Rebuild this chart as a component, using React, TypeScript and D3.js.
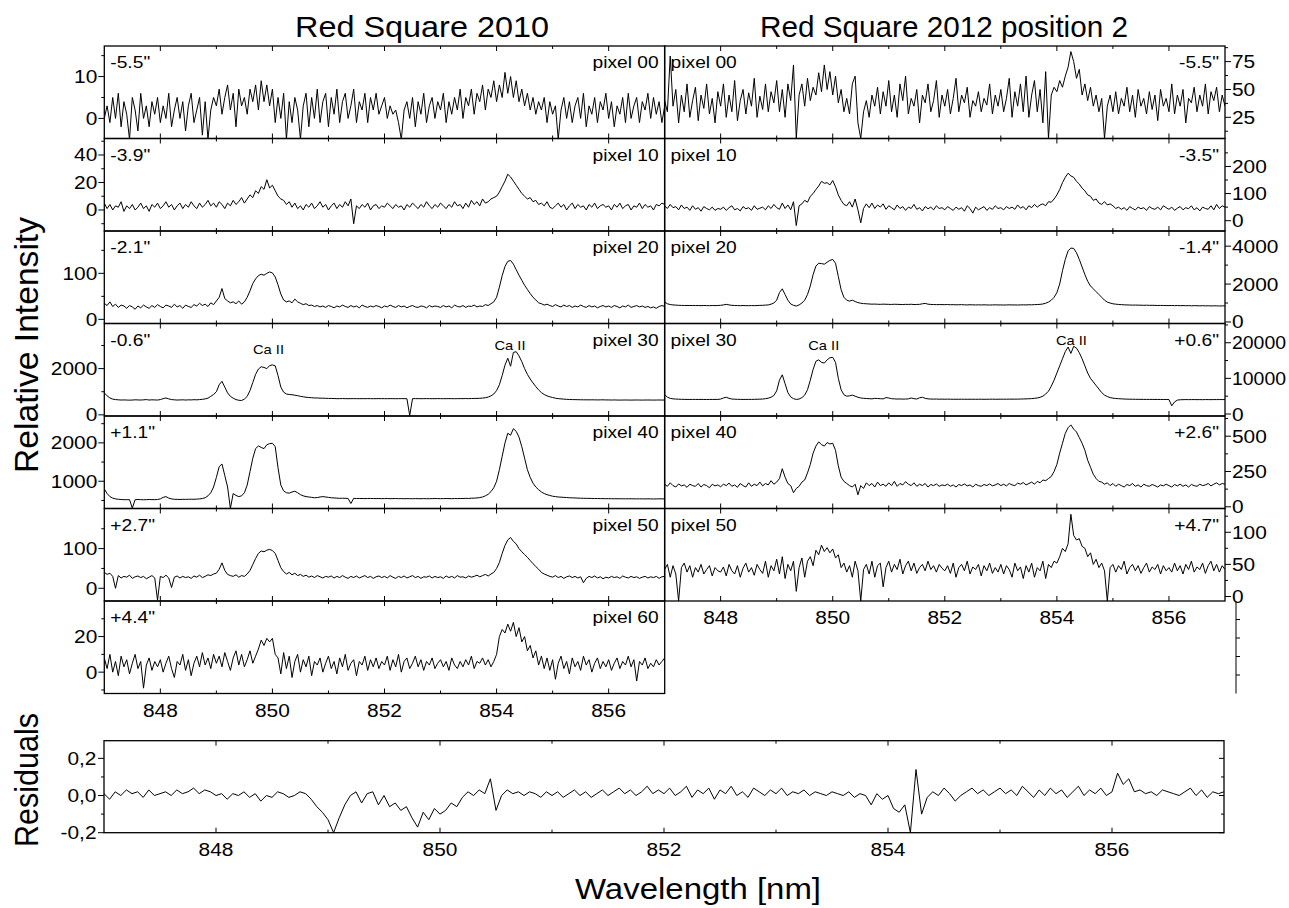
import React from "react";
import * as d3 from "d3";

// ---------- data (0.05 nm sampling from 847.00 to 857.00 nm) ----------
const left00 = [
  0, 3, -1, 5, 0, 6, -2, 4, 1, -5, 5, 2, -3, 6, 0, 3, -2, 4, 1, 5,
  -1, 3, 0, 6, -2, 2, 5, 0, 4, -3, 3, 6, -1, 2, 5, -4, 4, -5, 2, 5,
  3, 7, 1, 5, 8, 2, 6, -2, 7, 3, 5, 1, 7, 4, 8, 2, 9, 4, 8, 3,
  7, -1, 5, 0, 6, -5, 4, -1, 5, 2, -5, 3, 6, -2, 5, 0, 7, -1, 4, 6,
  -2, 5, 1, 7, -1, 4, 6, 0, 3, 7, -1, 4, 2, 6, -1, 5, 2, 6, 1, 3,
  5, 0, 3, 1, 2, -1, -5, 2, 4, 0, 5, -2, 4, 1, 6, -1, 3, 5, 0, 4,
  2, 6, -1, 4, 1, 5, 2, 7, 0, 5, 3, 7, 1, 6, 4, 8, 2, 7, 5, 9,
  4, 8, 5, 11, 6, 10, 5, 9, 4, 7, 3, 6, 2, 5, 1, 4, 2, 5, -1, 4,
  1, 3, -5, 2, 5, 0, 4, -1, 3, 5, 0, 6, -2, 3, 1, 5, -1, 4, 2, 6,
  0, 4, -2, 3, 1, 5, -1, 6, 0, 3, 5, -1, 4, 2, 6, 0, 5, 1, 4, -1,
  3,
];
const left10 = [
  5, 1, 4, 0, 3, 2, 6, -1, 3, 1, 4, 0, 2, 5, 1, 3, -1, 4, 2, 5,
  1, 3, 6, 2, 4, 0, 3, 5, 1, 4, 2, 6, 3, 1, 5, 2, 4, 7, 3, 5,
  2, 6, 4, 1, 5, 3, 7, 4, 6, 9, 5, 8, 11, 9, 14, 12, 17, 15, 22, 16,
  18, 14, 10, 8, 7, 4, 6, 2, 5, 1, 3, 0, 4, 2, 5, 1, 3, 6, 2, 4,
  0, 3, 5, 1, 4, 2, 6, 3, 8, -10, 3, 1, 4, 2, 5, 0, 3, 4, 1, 3,
  2, 5, 3, 1, 4, 2, 3, 0, 4, 2, 5, 3, 1, 4, 2, 6, 3, 1, 4, 2,
  5, 3, 1, 4, 2, 6, 3, 4, 1, 5, 2, 7, 4, 6, 3, 8, 5, 6, 8, 9,
  10, 13, 17, 21, 26, 24, 21, 18, 15, 12, 10, 8, 9, 6, 7, 4, 5, 3, 6, 2,
  1, 3, 5, 2, 4, 0, 3, 5, 1, 4, 2, 3, 0, 4, 2, 5, 1, 3, 4, 2,
  3, 0, 4, 2, 5, 1, 3, 4, 0, 3, 2, 5, 1, 4, 2, 3, 0, 4, 3, 5,
  4,
];
const left20 = [
  35, 30, 38, 28, 33, 26, 31, 29, 24, 30, 27, 22, 29, 25, 31, 27, 24, 30, 26, 32,
  28, 25, 31, 29, 26, 33, 27, 30, 24, 31, 28, 26, 32, 29, 35, 30, 33, 28, 36, 32,
  40, 48, 67, 45, 40, 36, 38, 34, 40, 33, 38, 48, 62, 78, 88, 95, 98, 96, 100, 103,
  101, 92, 75, 55, 42, 38, 40, 36, 44, 38, 35, 32, 34, 30, 31, 28, 30, 27, 29, 26,
  30, 28, 25, 29, 27, 31, 28, 26, 30, 27, 29, 25, 31, 28, 26, 29, 27, 30, 28, 25,
  29, 27, 31, 28, 26, 30, 27, 29, 25, 28, 30, 27, 26, 29, 28, 25, 30, 27, 29, 28,
  26, 30, 27, 29, 25, 31, 28, 27, 30, 26, 29, 28, 31, 27, 29, 28, 32, 30, 34, 38,
  48, 70, 95, 115, 126, 128, 120, 108, 96, 85, 74, 65, 56, 48, 42, 36, 34, 31, 33, 30,
  28, 32, 29, 27, 31, 28, 30, 26, 29, 27, 31, 28, 26, 30, 27, 29, 25, 28, 30, 27,
  29, 26, 30, 28, 25, 29, 27, 31, 26, 28, 30, 27, 29, 26, 28, 25, 27, 24, 28, 30,
  28,
];
const left30 = [
  950, 820, 730, 680, 660, 650, 640, 645, 640, 635, 640, 650, 645, 640, 650, 660, 640, 650, 645, 640,
  660, 700, 730, 690, 660, 650, 640, 645, 650, 640, 650, 645, 655, 650, 660, 670, 690, 720, 800, 880,
  1000, 1300, 1450, 1200, 950, 800, 720, 660, 630, 620, 680, 800, 1050, 1400, 1750, 1980, 2080, 2050, 2000, 2130,
  2160, 2120, 1700, 1200, 980, 900, 880, 870, 850, 830, 800, 780, 760, 750, 740, 730, 730, 720, 720, 715,
  710, 710, 705, 700, 700, 705, 700, 698, 700, 702, 700, 698, 700, 700, 702, 700, 698, 700, 702, 700,
  700, 698, 702, 700, 698, 700, 702, 700, 698, -30, 700, 702, 700, 698, 700, 702, 700, 698, 700, 702,
  700, 698, 700, 702, 700, 698, 700, 702, 700, 705, 700, 705, 710, 710, 715, 725, 740, 770, 820, 900,
  1050, 1300, 1700, 2150, 2450, 2100, 2700, 2730, 2550, 2300, 2000, 1750, 1550, 1380, 1220, 1080, 960, 880, 820, 780,
  750, 720, 700, 690, 680, 670, 665, 660, 658, 655, 652, 650, 650, 648, 650, 648, 645, 648, 650, 645,
  645, 640, 645, 640, 638, 640, 642, 640, 638, 640, 642, 640, 638, 640, 642, 640, 638, 640, 642, 640,
  640,
];
const left40 = [
  800, 680, 600, 560, 540, 530, 525, 520, 520, 520, 300, 520, 525, 520, 518, 520, 525, 522, 520, 525,
  540, 580, 600, 560, 540, 530, 528, 525, 530, 528, 530, 532, 530, 535, 540, 550, 570, 620, 700, 850,
  1100, 1380, 1450, 1150, 850, 290, 680, 630, 600, 620, 700, 900, 1250, 1600, 1850, 1920, 1880, 1850, 1950, 1980,
  1990, 1900, 1350, 900, 750, 700, 690, 720, 740, 700, 650, 620, 600, 590, 580, 570, 575, 590, 600, 590,
  580, 570, 565, 560, 555, 558, 555, 552, 420, 555, 550, 552, 550, 548, 550, 552, 550, 548, 550, 548,
  548, 550, 546, 548, 550, 546, 548, 545, 548, 546, 545, 548, 546, 545, 548, 546, 545, 548, 550, 548,
  546, 548, 550, 548, 546, 550, 548, 552, 550, 555, 552, 558, 560, 565, 575, 590, 620, 660, 730, 830,
  1000, 1300, 1650, 2000, 2250, 2200, 2370, 2300, 2150, 1900, 1600, 1300, 1100, 950, 850, 780, 720, 680, 650, 630,
  610, 600, 590, 585, 580, 575, 570, 568, 565, 560, 558, 556, 555, 554, 552, 550, 550, 548, 548, 546,
  546, 545, 544, 545, 543, 544, 542, 543, 544, 542, 540, 542, 541, 540, 542, 540, 538, 540, 542, 540,
  540,
];
const left50 = [
  40, 35, 38, 30, 0, 32, 26, 30, 28, 33, 25, 29, 31, 27, 30, 24, 28, 32, 26, -30,
  30, 27, 33, 26, 2, 28, 31, 26, 30, 27, 29, 25, 31, 28, 33, 27, 30, 34, 32, 36,
  38, 48, 64, 45, 35, 32, 30, 34, 28, 32, 30, 36, 45, 60, 75, 88, 94, 92, 96, 98,
  95, 88, 70, 52, 42, 36, 40, 34, 38, 32, 35, 30, 33, 28, 31, 27, 32, 29, 26, 30,
  28, 31, 26, 30, 27, 32, 28, 25, 30, 27, 31, 26, 29, 32, 27, 30, 25, 29, 31, 27,
  30, 26, 32, 28, 25, 30, 27, 31, 26, 29, 32, 27, 30, 25, 29, 28, 31, 26, 30, 27,
  29, 25, 31, 27, 30, 26, 32, 28, 29, 26, 31, 28, 30, 33, 29, 32, 35, 31, 36, 40,
  50, 65, 88, 108, 122, 128, 118, 112, 100, 92, 85, 78, 70, 62, 55, 48, 40, 36, 33, 30,
  28, 32, 27, 30, 25, 29, 31, 27, 30, 26, 29, 14, 25, 30, 27, 31, 26, 29, 24, 28,
  26, 30, 27, 29, 25, 31, 28, 26, 30, 27, 29, 25, 28, 30, 26, 29, 27, 30, 25, 29,
  30,
];
const left60 = [
  8, 2, 10, 0, 6, -2, 9, 3, 7, -1, 5, 10, 2, 6, -9, 4, 8, 1, 6, 3,
  7, 0, 5, 9, 2, -3, 6, 4, 10, 1, 7, -2, 5, 9, 3, 11, 4, 8, 2, 10,
  5, 9, 3, 11, 6, 1, 8, 12, 4, 10, 3, 7, 12, 5, 9, 13, 18, 15, 19, 17,
  19, 10, 8, -1, 11, 2, 9, -3, 6, 10, 0, 7, 3, 9, -2, 6, 4, 8, 0, 5,
  9, 2, 6, -1, 8, 3, 10, 1, 5, 7, -2, 6, 4, 9, 1, 7, 3, 8, 2, 6,
  4, 9, 1, 7, 3, 10, 0, 6, 8, 2, 5, 9, 3, 7, 1, 6, 4, 8, 2, 5,
  7, 3, 6, 1, 8, 4, 2, 6, 3, 7, 4, 9, 2, 6, 5, 8, 4, 7, 3, 6,
  10, 20, 24, 22, 27, 23, 28, 20, 25, 17, 20, 12, 15, 8, 12, 4, 9, 2, 8, 1,
  7, -4, 5, 9, 2, 6, -1, 8, 3, 6, 1, 9, 4, 7, 0, 5, 8, 2, 6, 3,
  7, 1, 5, 8, 2, 6, 4, 9, 3, 7, -5, 6, 4, 8, 2, 5, 3, 7, 4, 6,
  8,
];
const right00 = [
  40, 30, 80, 35, 50, 20, 45, 30, 55, 25, 40, 52, 22, 45, 33, 55, 28, 42, 20, 48,
  35, 55, 25, 45, 30, 58, 22, 40, 50, 28, 47, 35, 60, 25, 44, 32, 55, 30, 48, 38,
  58, 30, 50, 25, 55, 40, 72, 6, 45, 55, 35, 60, 40, 52, 45, 65, 48, 72, 50, 66,
  45, 62, 38, 50, 30, 42, 28, 55, 62, 20, 6, 30, 40, 25, 45, 35, 52, 28, 48, 35,
  58, 30, 45, 25, 55, 40, 62, 28, 42, 35, 50, 20, 45, 38, 55, 30, 40, 58, 25, 45,
  35, 50, 28, 42, 60, 30, 45, 38, 52, 25, 40, 35, 48, 30, 42, 36, 55, 28, 45, 35,
  50, 30, 42, 60, 25, 48, 35, 55, 30, 62, 25, 45, 58, 30, 50, 20, 66, 6, 45, 52,
  48, 58, 52, 62, 70, 84, 75, 60, 68, 45, 55, 40, 52, 35, 45, 30, 42, 6, 35, 45,
  30, 48, 28, 42, 35, 52, 30, 45, 25, 50, 35, 42, 28, 48, 32, 45, 22, 50, 35, 42,
  30, 55, 28, 45, 35, 50, 20, 42, 38, 52, 30, 45, 35, 55, 28, 48, 40, 52, 30, 45,
  35,
];
const right10 = [
  55, 45, 60, 48, 52, 40, 58, 45, 50, 38, 55, 42, 48, 35, 52, 45, 40, 50, 38, 45,
  42, 50, 38, 48, 55, 40, 45, 36, 52, 44, 48, 38, 55, 42, 46, 50, 40, 55, 45, 60,
  48, 42, 65, 45, 58, 40, 70, -18, 55, 62, 75, 68, 90, 100, 115, 128, 145, 138, 140, 132,
  148, 125, 95, 75, 60, 55, 70, 50, 80, 40, -8, 45, 62, 48, 65, 45, 58, 50, 62, 42,
  55, 48, 40, 58, 45, 52, 38, 50, 45, 60, 42, 48, 36, 52, 44, 50, 40, 55, 45, 48,
  40, 52, 45, 38, 50, 42, 48, 35, 55, 45, 28, 50, 40, 46, 52, 38, 48, 42, 55, 45,
  48, 40, 52, 45, 50, 42, 58, 46, 52, 40, 55, 48, 60, 50, 58, 62, 55, 70, 68, 80,
  95, 115, 140, 160, 175, 165, 160, 145, 135, 120, 110, 95, 90, 75, 80, 65, 60, 70, 58, 62,
  55, 45, 50, 42, 48, 38, 52, 45, 40, 50, 44, 48, 38, 52, 45, 42, 50, 40, 55, 48,
  42, 50, 38, 46, 52, 40, 48, 44, 55, 40, 48, 36, 50, 45, 42, 55, 40, 60, 45, 55,
  50,
];
const right20 = [
  1050, 960, 920, 900, 890, 880, 875, 870, 872, 868, 870, 865, 868, 862, 870, 865, 860, 868, 865, 870,
  880, 900, 930, 900, 880, 870, 865, 860, 868, 862, 860, 865, 862, 870, 875, 880, 890, 900, 940, 1000,
  1150, 1550, 1750, 1450, 1150, 950, 880, 840, 900, 1000, 1150, 1450, 1900, 2500, 2950, 3100, 3080, 3050, 3150, 3250,
  3300, 3100, 2400, 1700, 1300, 1150, 1100, 1150, 1080, 1020, 990, 970, 960, 950, 940, 945, 935, 930, 940, 935,
  930, 925, 935, 930, 925, 920, 930, 925, 935, 920, 925, 930, 960, 980, 940, 925, 920, 915, 920, 915,
  915, 920, 910, 915, 905, 910, 915, 905, 900, 910, 905, 900, 905, 898, 905, 900, 895, 900, 905, 898,
  900, 895, 900, 905, 898, 900, 895, 902, 905, 900, 910, 905, 915, 920, 930, 950, 990, 1050, 1150, 1300,
  1550, 2000, 2700, 3300, 3750, 3900, 3880, 3650, 3300, 2900, 2500, 2150, 1900, 1750, 1600, 1450, 1300, 1150, 1050, 1000,
  960, 940, 925, 915, 905, 900, 895, 890, 892, 888, 885, 880, 885, 878, 880, 875, 870, 875, 870, 868,
  865, 870, 862, 868, 860, 865, 858, 862, 855, 860, 858, 852, 858, 850, 855, 848, 852, 850, 845, 850,
  848,
];
const right30 = [
  5500, 4700, 4400, 4250, 4200, 4150, 4120, 4100, 4100, 4080, 4100, 4090, 4080, 4100, 4080, 4070, 4090, 4080, 4100, 4090,
  4200, 4500, 4700, 4400, 4200, 4150, 4120, 4100, 4100, 4090, 4100, 4100, 4120, 4140, 4170, 4200, 4300, 4450, 4700, 5200,
  6500, 9500, 11000, 8500, 6000, 4800, 4300, 4100, 4200, 4600, 5300, 6800, 9500, 12500, 14800, 15200, 14500, 14300, 15200, 15800,
  15900, 14500, 10000, 6800, 5400, 5000, 5100, 5300, 5000, 4700, 4500, 4400, 4350, 4300, 4250, 4400, 4350, 4300, 4250, 4600,
  4500, 4300, 4250, 4200, 4220, 4180, 4200, 4250, 4500, 4300, 4200, 4550, 4700, 4400, 4250, 4200, 4180, 4200, 4150, 4180,
  4150, 4170, 4150, 4140, 4150, 4130, 4150, 4140, 4130, 4150, 4140, 4130, 4140, 4150, 4130, 4140, 4150, 4160, 4140, 4150,
  4150, 4160, 4150, 4170, 4160, 4180, 4170, 4200, 4220, 4250, 4280, 4320, 4400, 4500, 4700, 5000, 5600, 6400, 7800, 9500,
  11500, 13500, 15500, 17500, 18800, 17000, 19000, 18500, 17200, 15500, 13500, 11500, 10000, 9000, 8000, 7000, 6000, 5300, 4900, 4600,
  4450, 4350, 4300, 4250, 4200, 4180, 4150, 4140, 4130, 4120, 4110, 4100, 4100, 4090, 4100, 4080, 4090, 4080, 4070, 4080,
  4050, 2300, 3400, 3900, 4000, 4020, 4050, 4030, 4040, 4050, 4030, 4040, 4020, 4050, 4040, 4030, 4050, 4040, 4060, 4050,
  4060,
];
const right40 = [
  160, 145, 170, 150, 140, 162, 148, 155, 138, 160, 150, 145, 165, 140, 158, 150, 135, 160, 148, 155,
  142, 160, 150, 168, 145, 155, 138, 165, 150, 140, 170, 145, 160, 150, 175, 148, 165, 155, 185, 160,
  175, 200, 270, 210, 165, 150, 100, 130, 145, 175, 190, 240, 300, 380, 430, 460, 440, 430, 455, 445,
  450, 400, 290, 210, 180, 165, 150, 140, 160, 85, 150, 130, 170, 150, 165, 140, 175, 150, 160, 145,
  170, 150, 180, 145, 165, 155, 178, 160, 150, 170, 145, 160, 150, 165, 140, 158, 150, 162, 145, 155,
  150, 160, 145, 155, 140, 158, 150, 162, 148, 155, 140, 160, 150, 145, 158, 150, 162, 148, 155, 165,
  150, 160, 148, 165, 155, 150, 168, 160, 172, 155, 165, 175, 160, 180, 170, 190, 185, 200, 215, 250,
  300, 380, 450, 520, 560, 580, 550, 530, 490, 450, 400, 330, 280, 230, 200, 180, 175, 160, 170, 150,
  165, 145, 160, 150, 140, 158, 150, 165, 145, 155, 140, 160, 150, 145, 158, 150, 140, 155, 148, 160,
  150, 140, 158, 148, 160, 145, 155, 140, 158, 150, 145, 160, 150, 155, 165, 148, 160, 170, 155, 165,
  160,
];
const right50 = [
  42, 50, 30, 48, 35, -7, 45, 52, 38, 48, 30, 45, 38, 50, 35, 42, 48, 32, 45, 40,
  38, 46, 32, 50, 40, 35, 48, 30, 44, 52, 38, 45, 33, 50, 42, 36, 55, 30, 48, 40,
  58, 35, 62, 28, 50, 40, 55, 8, 45, 60, 30, 55, 62, 48, 72, 65, 80, 70, 76, 68,
  74, 60, 65, 45, 52, 38, 48, 30, 55, 40, -7, 42, 50, 35, 55, 30, 48, 52, 15, 45,
  55, 38, 50, 42, 58, 35, 48, 55, 40, 52, 36, 45, 50, 40, 55, 42, 48, 38, 50, 44,
  40, 48, 36, 52, 30, 45, 50, 40, 55, 35, 46, 42, 50, 32, 48, 40, 52, 36, 45, 38,
  50, 35, 48, 42, 30, 52, 40, 46, 28, 48, 38, 52, 30, 45, 40, 55, 28, 50, 45, 55,
  52, 62, 75, 70, 82, 128, 95, 88, 90, 78, 75, 62, 68, 50, 58, 45, 52, 40, -7, 45,
  50, 38, 48, 42, 55, 35, 45, 50, 40, 48, 36, 45, 52, 38, 46, 42, 50, 35, 48, 40,
  45, 38, 52, 40, 48, 35, 50, 42, 55, 38, 46, 42, 52, 36, 48, 55, 40, 50, 38, 48,
  42,
];
const residuals = [
  0.01, -0.02, 0.02, 0.0, 0.03, 0.01, 0.02, -0.01, 0.03, 0.0, 0.01, 0.02, 0.0, 0.03, 0.01, 0.02, 0.04, 0.01, 0.03, 0.02,
  0.0, 0.01, -0.02, 0.01, 0.0, 0.02, -0.01, 0.01, -0.03, 0.0, -0.01, 0.02, 0.01, -0.01, 0.0, 0.02, 0.01, -0.02, -0.06, -0.09,
  -0.13, -0.2, -0.12, -0.05, 0.0, 0.02, -0.04, 0.01, 0.02, -0.05, 0.0, -0.06, -0.04, -0.08, -0.06, -0.12, -0.17, -0.09, -0.13, -0.07,
  -0.1, -0.08, -0.04, -0.06, -0.01, 0.02, 0.0, 0.03, 0.01, 0.09, -0.08, 0.0, 0.03, 0.01, 0.02, 0.0, 0.02, 0.01, -0.01, 0.02,
  0.0, 0.02, -0.01, 0.01, 0.03, 0.0, 0.02, -0.01, 0.01, 0.03, 0.0, 0.02, 0.04, 0.01, 0.03, 0.0, 0.02, 0.05, 0.01, 0.03,
  0.01, 0.04, 0.0, 0.02, 0.05, -0.01, 0.03, 0.01, 0.04, -0.02, 0.03, 0.01, 0.05, 0.0, 0.02, -0.01, 0.04, 0.02, 0.0, 0.03,
  0.01, 0.04, 0.0, 0.02, 0.01, 0.03, 0.0, 0.02, 0.01, 0.0, 0.02, 0.01, 0.0, 0.02, -0.01, 0.01, 0.0, -0.05, 0.01, -0.02,
  0.0, -0.07, -0.09, -0.05, -0.2, 0.14, -0.1, -0.01, 0.02, 0.0, 0.04, 0.01, -0.03, 0.0, 0.02, 0.04, 0.01, 0.03, 0.0, 0.02,
  0.04, 0.01, 0.03, 0.0, 0.05, 0.02, -0.01, 0.03, 0.0, 0.04, 0.01, 0.03, -0.01, 0.02, 0.05, 0.0, 0.03, 0.01, 0.04, 0.0,
  0.02, 0.12, 0.06, 0.09, 0.02, 0.03, 0.01, 0.02, 0.0, 0.03, 0.02, 0.01, 0.0, 0.02, 0.04, 0.0, 0.03, -0.01, 0.02, 0.01,
  0.02,
];

const xMajorTicks = [848, 850, 852, 854, 856];
const xMinorTicks = [849, 851, 853, 855];
const WL_DOMAIN: [number, number] = [847, 857];

const leftPositions = ['-5.5"', '-3.9"', '-2.1"', '-0.6"', '+1.1"', '+2.7"', '+4.4"'];
const rightPositions = ['-5.5"', '-3.5"', '-1.4"', '+0.6"', '+2.6"', '+4.7"'];
const pixelLabels = ["pixel 00", "pixel 10", "pixel 20", "pixel 30", "pixel 40", "pixel 50", "pixel 60"];

// ---------- layout ----------
const FONT = "'Liberation Sans', Arial, Helvetica, sans-serif";
const COL_X = [104.3, 664.6];
const COL_W = 560.4;
const ROW_TOP = 46;
const ROW_H = 92.5;
const SX = 1.13;
const TICK_FONT = 18.5;

type PanelCfg = {
  values: number[];
  domain: [number, number];
  major: number[];
  minor: number[];
  pos: string;
  pix: string;
  ca?: { wl: number; dy: number }[];
};

const leftPanels: PanelCfg[] = [
  { values: left00, domain: [-4.8, 17.3], major: [0, 10], minor: [5, 15], pos: leftPositions[0], pix: pixelLabels[0] },
  { values: left10, domain: [-15.3, 52], major: [0, 20, 40], minor: [-10, 10, 30, 50], pos: leftPositions[1], pix: pixelLabels[1] },
  { values: left20, domain: [-9, 192], major: [0, 100], minor: [50, 150], pos: leftPositions[2], pix: pixelLabels[2] },
  {
    values: left30, domain: [-50, 3950], major: [0, 2000], minor: [1000, 3000], pos: leftPositions[3], pix: pixelLabels[3],
    ca: [{ wl: 849.93, dy: 30.5 }, { wl: 854.24, dy: 26.5 }],
  },
  { values: left40, domain: [290, 2700], major: [1000, 2000], minor: [500, 1500, 2500], pos: leftPositions[4], pix: pixelLabels[4] },
  { values: left50, domain: [-32, 201], major: [0, 100], minor: [50, 150], pos: leftPositions[5], pix: pixelLabels[5] },
  { values: left60, domain: [-12, 40], major: [0, 20], minor: [-10, 10, 30], pos: leftPositions[6], pix: pixelLabels[6] },
];

const rightPanels: PanelCfg[] = [
  { values: right00, domain: [6, 89], major: [25, 50, 75], minor: [12.5, 37.5, 62.5, 87.5], pos: rightPositions[0], pix: pixelLabels[0] },
  { values: right10, domain: [-38, 303], major: [0, 100, 200], minor: [50, 150, 250], pos: rightPositions[1], pix: pixelLabels[1] },
  { values: right20, domain: [-80, 4800], major: [0, 2000, 4000], minor: [1000, 3000], pos: rightPositions[2], pix: pixelLabels[2] },
  {
    values: right30, domain: [-560, 25400], major: [0, 10000, 20000], minor: [5000, 15000, 25000], pos: rightPositions[3], pix: pixelLabels[3],
    ca: [{ wl: 849.84, dy: 26 }, { wl: 854.26, dy: 21.5 }],
  },
  { values: right40, domain: [-12, 643], major: [0, 250, 500], minor: [125, 375, 625], pos: rightPositions[4], pix: pixelLabels[4] },
  { values: right50, domain: [-7, 137], major: [0, 50, 100], minor: [25, 75, 125], pos: rightPositions[5], pix: pixelLabels[5] },
];

const samplingGrid = (n: number) => d3.range(n).map((i) => WL_DOMAIN[0] + ((WL_DOMAIN[1] - WL_DOMAIN[0]) * i) / (n - 1));

function Txt(props: {
  x: number; y: number; size: number; anchor?: string; sx?: number; children: React.ReactNode;
}) {
  const { x, y, size, anchor = "start", sx = SX, children } = props;
  return (
    <text
      transform={`translate(${x},${y}) scale(${sx},1)`}
      fontSize={size}
      fontFamily={FONT}
      textAnchor={anchor as any}
      fill="#000"
    >
      {children}
    </text>
  );
}

function XTicks({ xs, y0, y1 }: { xs: d3.ScaleLinear<number, number>; y0: number; y1: number }) {
  return (
    <g stroke="#000" strokeWidth={1}>
      {xMajorTicks.map((t) => (
        <g key={"M" + t}>
          <line x1={xs(t)} x2={xs(t)} y1={y1} y2={y1 - 5} />
          <line x1={xs(t)} x2={xs(t)} y1={y0} y2={y0 + 5} />
        </g>
      ))}
      {xMinorTicks.map((t) => (
        <g key={"m" + t}>
          <line x1={xs(t)} x2={xs(t)} y1={y1} y2={y1 - 3} />
          <line x1={xs(t)} x2={xs(t)} y1={y0} y2={y0 + 3} />
        </g>
      ))}
    </g>
  );
}

function SpectrumPanel({ cfg, col, row, showX }: { cfg: PanelCfg; col: number; row: number; showX: boolean }) {
  const x0 = COL_X[col];
  const x1 = x0 + COL_W;
  const y0 = ROW_TOP + row * ROW_H;
  const y1 = y0 + ROW_H;
  const xs = d3.scaleLinear().domain(WL_DOMAIN).range([x0, x1]);
  const ys = d3.scaleLinear().domain(cfg.domain).range([y1, y0]);
  const wl = samplingGrid(cfg.values.length);
  const path = d3
    .line<number>()
    .x((_, i) => xs(wl[i]))
    .y((v) => ys(v))(cfg.values) as string;
  const clipId = `clip-${col}-${row}`;
  const axisX = col === 0 ? x0 : x1;
  const dir = col === 0 ? -1 : 1;
  // keep the widest right-hand labels inside the page
  const labelScale = (s: string) => (col === 1 ? Math.min(SX, 54 / (s.length * 0.556 * TICK_FONT)) : SX);
  return (
    <g>
      <defs>
        <clipPath id={clipId}>
          <rect x={x0} y={y0} width={COL_W} height={ROW_H} />
        </clipPath>
      </defs>
      <path d={path} fill="none" stroke="#000" strokeWidth={1} strokeLinejoin="round" clipPath={`url(#${clipId})`} />
      <rect x={x0} y={y0} width={COL_W} height={ROW_H} fill="none" stroke="#000" strokeWidth={1.3} />
      <XTicks xs={xs} y0={y0} y1={y1} />
      <g stroke="#000" strokeWidth={1}>
        {cfg.major.map((t) => (
          <line key={"M" + t} x1={axisX} x2={axisX + dir * 6} y1={ys(t)} y2={ys(t)} />
        ))}
        {cfg.minor.map((t) => (
          <line key={"m" + t} x1={axisX} x2={axisX + dir * 3} y1={ys(t)} y2={ys(t)} />
        ))}
      </g>
      {cfg.major.map((t) => (
        <Txt
          key={"L" + t}
          x={axisX + dir * 7}
          y={ys(t) + 6.5}
          size={TICK_FONT}
          sx={labelScale(String(t))}
          anchor={col === 0 ? "end" : "start"}
        >
          {String(t)}
        </Txt>
      ))}
      {col === 0 ? (
        <>
          <Txt x={x0 + 6} y={y0 + 22.3} size={17}>{cfg.pos}</Txt>
          <Txt x={x1 - 6} y={y0 + 22.3} size={17} anchor="end">{cfg.pix}</Txt>
        </>
      ) : (
        <>
          <Txt x={x0 + 6} y={y0 + 22.3} size={17}>{cfg.pix}</Txt>
          <Txt x={x1 - 6} y={y0 + 22.3} size={17} anchor="end">{cfg.pos}</Txt>
        </>
      )}
      {(cfg.ca || []).map((c, i) => (
        <Txt key={"ca" + i} x={xs(c.wl)} y={y0 + c.dy} size={13} anchor="middle">Ca II</Txt>
      ))}
      {showX &&
        xMajorTicks.map((t) => (
          <Txt key={"x" + t} x={xs(t)} y={y1 + 23} size={TICK_FONT} anchor="middle">{String(t)}</Txt>
        ))}
    </g>
  );
}

function ResidualPanel() {
  const x0 = 104, x1 = 1224, y0 = 740.7, y1 = 832.7;
  const xs = d3.scaleLinear().domain(WL_DOMAIN).range([x0, x1]);
  const ys = d3.scaleLinear().domain([-0.2, 0.295]).range([y1, y0]);
  const wl = samplingGrid(residuals.length);
  const path = d3
    .line<number>()
    .x((_, i) => xs(wl[i]))
    .y((v) => ys(v))(residuals) as string;
  const yMajor = [-0.2, 0, 0.2];
  const yMinor = [-0.1, 0.1];
  const fmt = (v: number) => v.toFixed(1).replace(".", ",");
  return (
    <g>
      <defs>
        <clipPath id="clip-res">
          <rect x={x0} y={y0} width={x1 - x0} height={y1 - y0} />
        </clipPath>
      </defs>
      <path d={path} fill="none" stroke="#000" strokeWidth={1} strokeLinejoin="round" clipPath="url(#clip-res)" />
      <rect x={x0} y={y0} width={x1 - x0} height={y1 - y0} fill="none" stroke="#000" strokeWidth={1.3} />
      <XTicks xs={xs} y0={y0} y1={y1} />
      <g stroke="#000" strokeWidth={1}>
        {yMajor.map((t) => (
          <g key={"M" + t}>
            <line x1={x0} x2={x0 - 6} y1={ys(t)} y2={ys(t)} />
            <line x1={x1} x2={x1 - 5} y1={ys(t)} y2={ys(t)} />
          </g>
        ))}
        {yMinor.map((t) => (
          <g key={"m" + t}>
            <line x1={x0} x2={x0 - 3} y1={ys(t)} y2={ys(t)} />
            <line x1={x1} x2={x1 - 3} y1={ys(t)} y2={ys(t)} />
          </g>
        ))}
      </g>
      {yMajor.map((t) => (
        <Txt key={"L" + t} x={x0 - 7.5} y={ys(t) + 6.5} size={TICK_FONT} anchor="end">{fmt(t)}</Txt>
      ))}
      {xMajorTicks.map((t) => (
        <Txt key={"x" + t} x={xs(t)} y={y1 + 23} size={TICK_FONT} anchor="middle">{String(t)}</Txt>
      ))}
    </g>
  );
}

function BlankAxis() {
  const x = 1236;
  const ys = d3.scaleLinear().domain([0, 5]).range([693.5, 601]);
  return (
    <g stroke="#000" strokeWidth={1}>
      <line x1={x} x2={x} y1={ys(0)} y2={ys(5)} />
      {[1, 2, 3, 4].map((t) => (
        <line key={t} x1={x} x2={x + 4} y1={ys(t)} y2={ys(t)} />
      ))}
    </g>
  );
}

export default function App() {
  React.useEffect(() => {
    document.body.style.margin = "0";
  }, []);
  return (
    <svg
      width={1289}
      height={908}
      viewBox="0 0 1289 908"
      style={{ position: "absolute", left: 0, top: 0, background: "#fff", display: "block" }}
    >
      <rect x={0} y={0} width={1289} height={908} fill="#fff" />
      <text x={422} y={37} fontSize={30} fontFamily={FONT} textAnchor="middle" textLength={254} lengthAdjust="spacingAndGlyphs">
        Red Square 2010
      </text>
      <text x={944} y={37} fontSize={30} fontFamily={FONT} textAnchor="middle" textLength={368} lengthAdjust="spacingAndGlyphs">
        Red Square 2012 position 2
      </text>
      {leftPanels.map((p, i) => (
        <SpectrumPanel key={"l" + i} cfg={p} col={0} row={i} showX={i === leftPanels.length - 1} />
      ))}
      {rightPanels.map((p, i) => (
        <SpectrumPanel key={"r" + i} cfg={p} col={1} row={i} showX={i === rightPanels.length - 1} />
      ))}
      <BlankAxis />
      <ResidualPanel />
      <text
        transform="translate(38,345) rotate(-90)"
        fontSize={33}
        fontFamily={FONT}
        textAnchor="middle"
        textLength={256}
        lengthAdjust="spacingAndGlyphs"
      >
        Relative Intensity
      </text>
      <text
        transform="translate(38,780) rotate(-90)"
        fontSize={33}
        fontFamily={FONT}
        textAnchor="middle"
        textLength={134}
        lengthAdjust="spacingAndGlyphs"
      >
        Residuals
      </text>
      <text x={698} y={899} fontSize={29} fontFamily={FONT} textAnchor="middle" textLength={246} lengthAdjust="spacingAndGlyphs">
        Wavelength [nm]
      </text>
    </svg>
  );
}
